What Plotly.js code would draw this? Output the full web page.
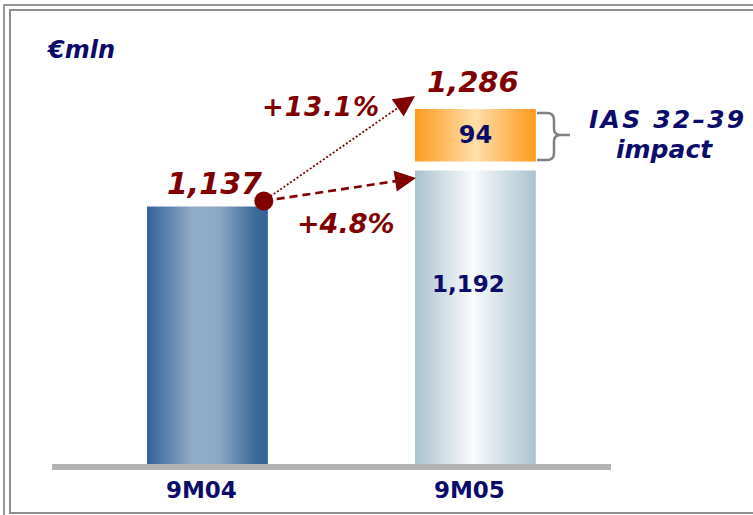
<!DOCTYPE html>
<html><head><meta charset="utf-8">
<script src="https://cdn.plot.ly/plotly-3.0.1.min.js"></script>
<style>html,body{margin:0;padding:0;background:#fff}#chart{width:753px;height:515px}</style>
</head><body><div id="chart"></div>
<script>
// ---- data ----
const categories = ['9M04', '9M05'];
const baseValues = [1137, 1192];
const iasImpact = [null, 94];
const unitLabel = '€mln';
const iasLabel = ['IAS 32–39', 'impact'];

// ---- layout constants ----
const W = 753, H = 515, L = 52, R = 142, T = 40, B = 51;
const PW = W - L - R, PH = H - T - B;
const XMIN = -0.58, XMAX = 1.506;
const YMIN = 744, YMAX = 1391.3;
const PXX = PW / (XMAX - XMIN), PXY = PH / (YMAX - YMIN);
const BAR_W = 0.451;
const GAP_PX = 9;
const RED = '#800000', NAVY = '#0b0b6b', FONT = 'DejaVu Sans';

const fmt = v => v.toLocaleString('en-US');
const total = baseValues[1] + iasImpact[1];
const pctTotal = '+' + ((total / baseValues[0] - 1) * 100).toFixed(1) + '%';
const pctBase = '+' + ((baseValues[1] / baseValues[0] - 1) * 100).toFixed(1) + '%';

const px = x => (x - L) / PW;          // pixel -> paper x
const py = y => (T + PH - y) / PH;     // pixel -> paper y
const idx = categories.map((c, i) => i);

// bars
const iasBase = iasImpact.map((v, i) => v == null ? null : baseValues[i] + GAP_PX / PXY);
const iasHeight = iasImpact.map((v, i) => v == null ? null : baseValues[i] + v - iasBase[i]);

const traceBase = {
  type: 'bar', x: idx, y: baseValues, width: BAR_W,
  marker: {color: ['#6a8db5', '#d5e3ea'], line: {width: 0}},
  hoverinfo: 'skip'
};
const traceIas = {
  type: 'bar', x: idx, y: iasHeight, base: iasBase, width: BAR_W,
  marker: {color: '#ffbb66', line: {width: 0}},
  text: iasImpact.map(v => v == null ? '' : String(v)),
  textposition: 'inside', insidetextanchor: 'middle', constraintext: 'none',
  insidetextfont: {family: FONT, size: 24, color: NAVY, weight: 'bold'},
  hoverinfo: 'skip'
};

// arrows
const dot = {x: 0 + BAR_W / 2 - 4 / PXX, y: baseValues[0] + 5.6 / PXY};
const tipTop = {x: 1 - BAR_W / 2, y: total + 13 / PXY};
const tipMid = {x: 1 - BAR_W / 2 + 1 / PXX, y: baseValues[1] - 7.5 / PXY};

const lineTop = {type: 'scatter', mode: 'lines', x: [dot.x, tipTop.x], y: [dot.y, tipTop.y],
  line: {color: RED, width: 1.8, dash: '2px,2px'}, hoverinfo: 'skip', cliponaxis: false};
const lineMid = {type: 'scatter', mode: 'lines', x: [dot.x, tipMid.x], y: [dot.y, tipMid.y],
  line: {color: RED, width: 2.6, dash: '8px,5px'}, hoverinfo: 'skip', cliponaxis: false};
const dotTrace = {type: 'scatter', mode: 'markers', x: [dot.x], y: [dot.y],
  marker: {color: RED, size: 19}, hoverinfo: 'skip', cliponaxis: false};

function headOffset(tip) {
  const dx = (tip.x - dot.x) * PXX, dy = -(tip.y - dot.y) * PXY;
  const len = Math.hypot(dx, dy);
  return {ax: -dx / len * 16, ay: -dy / len * 16};
}
function arrowHead(tip) {
  const o = headOffset(tip);
  return {x: tip.x, y: tip.y, xref: 'x', yref: 'y', ax: o.ax, ay: o.ay, text: ' ',
    showarrow: true, arrowhead: 2, arrowsize: 2.1, arrowwidth: 2, arrowcolor: RED, standoff: 0};
}

const fRed = s => ({family: FONT, size: s, color: RED, weight: 'bold', style: 'italic'});
const fNavyI = s => ({family: FONT, size: s, color: NAVY, weight: 'bold', style: 'italic'});
const C = {xanchor: 'center', yanchor: 'middle', showarrow: false};

const annotations = [
  Object.assign({xref: 'paper', yref: 'paper', x: px(81), y: py(50), text: unitLabel, font: fNavyI(24)}, C),
  Object.assign({xref: 'x', yref: 'y', x: 0, y: baseValues[0], xshift: 6.6, yshift: 22.6, text: fmt(baseValues[0]), font: fRed(30)}, C),
  Object.assign({xref: 'x', yref: 'y', x: 1, y: total, xshift: -2, yshift: 27, text: fmt(total), font: fRed(29)}, C),
  Object.assign({xref: 'paper', yref: 'paper', x: px(321), y: py(107), text: pctTotal, font: fRed(26)}, C),
  Object.assign({xref: 'paper', yref: 'paper', x: px(346), y: py(223), text: pctBase, font: fRed(27)}, C),
  Object.assign({xref: 'x', yref: 'y', x: 1, y: baseValues[1], xshift: -7, yshift: -113, text: fmt(baseValues[1]),
    font: {family: FONT, size: 23, color: NAVY, weight: 'bold'}}, C),
  Object.assign({xref: 'paper', yref: 'paper', x: px(668), y: py(120), text: iasLabel[0], font: fNavyI(25)}, C),
  Object.assign({xref: 'paper', yref: 'paper', x: px(664.5), y: py(149), text: iasLabel[1], font: fNavyI(25)}, C),
  arrowHead(tipTop), arrowHead(tipMid)
];

// bracket path (pixel points -> paper)
function P(x, y) { return px(x).toFixed(5) + ',' + py(y).toFixed(5); }
const bracePath = 'M' + P(537, 113) + ' L' + P(547, 113) + ' Q' + P(554, 113) + ' ' + P(554, 120) +
  ' L' + P(554, 129) + ' Q' + P(554, 135) + ' ' + P(561, 135) + ' L' + P(570, 135) +
  ' M' + P(561, 135) + ' Q' + P(554, 135) + ' ' + P(554, 141) + ' L' + P(554, 153) +
  ' Q' + P(554, 160) + ' ' + P(547, 160) + ' L' + P(537, 160);

const shapes = [
  {type: 'rect', xref: 'paper', yref: 'paper', x0: px(4), y0: py(5), x1: px(820), y1: py(530), line: {color: '#999999', width: 2}},
  {type: 'rect', xref: 'paper', yref: 'paper', x0: px(10), y0: py(10), x1: px(810), y1: py(513), line: {color: '#8e8e8e', width: 2}},
  {type: 'path', xref: 'paper', yref: 'paper', path: bracePath, line: {color: '#808080', width: 2.5}}
];

const layout = {
  width: W, height: H, margin: {l: L, r: R, t: T, b: B, pad: 0},
  paper_bgcolor: '#ffffff', plot_bgcolor: '#ffffff', showlegend: false, barmode: 'overlay',
  xaxis: {range: [XMIN, XMAX], tickvals: idx, ticktext: categories, showgrid: false, zeroline: false,
    showline: true, linewidth: 6, linecolor: '#b3b3b3', ticks: '', ticklabelstandoff: 0, ticklabelshift: -6,
    tickfont: {family: FONT, size: 23, color: NAVY, weight: 'bold'}, fixedrange: true},
  yaxis: {range: [YMIN, YMAX], visible: false, fixedrange: true},
  annotations: annotations, shapes: shapes, hovermode: false
};

const gd = document.getElementById('chart');
Plotly.newPlot(gd, [traceBase, traceIas, lineTop, lineMid, dotTrace], layout, {staticPlot: true, displayModeBar: false})
.then(() => {
  const NS = 'http://www.w3.org/2000/svg';
  const defs = gd.querySelector('svg.main-svg defs');
  function grad(id, stops) {
    const g = document.createElementNS(NS, 'linearGradient');
    g.setAttribute('id', id); g.setAttribute('x1', '0'); g.setAttribute('x2', '1');
    g.setAttribute('y1', '0'); g.setAttribute('y2', '0');
    stops.forEach(s => {
      const st = document.createElementNS(NS, 'stop');
      st.setAttribute('offset', s[0]); st.setAttribute('stop-color', s[1]);
      g.appendChild(st);
    });
    defs.appendChild(g);
  }
  grad('gDark', [[0, '#33619a'], [0.38, '#93acc6'], [0.6, '#8ba6c3'], [0.9, '#3c6898'], [1, '#33629a']]);
  grad('gLight', [[0, '#a8c2d0'], [0.48, '#f9fbfc'], [1, '#a9c3d0']]);
  grad('gOrange', [[0, '#ff9a1c'], [0.5, '#ffdfab'], [1, '#ff981a']]);
  const traces = gd.querySelectorAll('.barlayer .trace');
  traces.forEach((tr, ti) => {
    tr.querySelectorAll('.point').forEach(pt => {
      const i = pt.__data__ ? pt.__data__.i : null;
      const path = pt.querySelector('path');
      if (!path) return;
      let id = ti === 0 ? (i === 0 ? 'gDark' : 'gLight') : 'gOrange';
      path.style.fill = 'url(#' + id + ')';
    });
  });
  // widen letter spacing of a few labels to match the reference typography
  const spacing = {};
  spacing[iasLabel[0]] = '2.2px';
  spacing[pctTotal] = '1px';
  gd.querySelectorAll('.annotation-text').forEach(t => {
    if (spacing[t.textContent]) t.style.letterSpacing = spacing[t.textContent];
  });
});
</script>
</body></html>
